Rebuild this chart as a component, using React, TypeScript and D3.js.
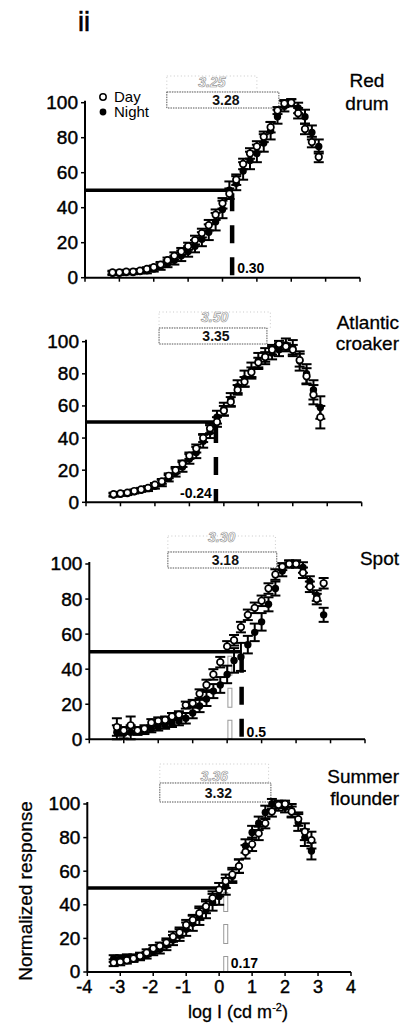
import React from 'react';
import * as d3 from 'd3';

// ---------- DATA ----------
const logI = [-3.2, -3.0, -2.8, -2.6, -2.4, -2.2, -2.0, -1.8, -1.6, -1.4, -1.2, -1.0, -0.8, -0.6, -0.4, -0.2, 0.0, 0.2, 0.4, 0.6, 0.8, 1.0, 1.2, 1.4, 1.6, 1.8, 2.0, 2.2, 2.4, 2.6, 2.8];
const xTicks = [-4, -3, -2, -1, 0, 1, 2, 3, 4];
const yTicks = [0, 20, 40, 60, 80, 100];
const speciesNames = [["Red", "drum"], ["Atlantic", "croaker"], ["Spot"], ["Summer", "flounder"]];

const dayRedDrum = [3, 3, 3.5, 3.5, 4, 5, 6, 7.5, 10, 12.5, 15, 18, 21.5, 25.5, 30, 36, 42.5, 48, 56, 65, 71, 75, 80.5, 86, 95.5, 99.5, 100, 94, 85, 77.5, 69];
const nightRedDrum = [2.5, 2.5, 3, 3, 3.5, 4, 5, 6.5, 8, 10, 12.5, 15, 18, 22, 26, 32, 39, 50, 54, 61, 67, 71, 77, 84, 92, 98, 100, 97, 92, 83, 75];
const dayErrRedDrum = [1, 1, 1, 1, 1, 1, 1, 1.5, 1.5, 2, 2, 2, 2.5, 2.5, 3, 3, 3, 3, 3, 3, 3, 3, 3, 3, 2, 2, 2, 3, 3, 3, 3];
const nightErrRedDrum = [1, 1, 1, 1, 1, 1.5, 1.5, 2, 2, 2.5, 3, 3, 3.5, 4, 4.5, 5, 5, 5, 4, 5, 5, 5, 5, 5, 4, 3, 2, 3, 4, 4, 4];

const dayCroaker = [5, 5.5, 6, 7, 8, 9, 11, 13, 16.5, 20, 24, 29, 33.5, 40, 46, 50, 57, 62.5, 70, 75, 81, 87, 90.5, 95, 98.5, 97, 95, 88.5, 78.5, 67, 53];
const nightCroaker = [4.5, 5, 5.5, 6.5, 7.5, 8.5, 10, 12, 15, 18.5, 22, 27, 31, 38, 44, 53, 58, 64, 72, 77, 82, 88, 91, 93, 95, 98, 96, 88, 80, 70, 59];
const dayErrCroaker = [1, 1, 1, 1, 1, 1, 1, 1.5, 1.5, 2, 2, 2, 2.5, 2.5, 3, 3, 3, 3, 3, 3, 3, 3, 3, 3, 2, 2, 3, 4, 5, 6, 7];
const nightErrCroaker = [1, 1, 1, 1, 1, 1.5, 1.5, 2, 2, 2.5, 3, 3, 3.5, 4, 4, 4, 4, 4, 4, 5, 5, 5, 5, 4, 4, 4, 5, 6, 6, 6, 7];

const daySpot = [7, 5, 8, 5, 6, 9.5, 10.5, 11, 13, 14, 19.5, 20.5, 26, 31, 37, 44, 53, 56.5, 64, 71, 75, 79, 86, 94, 98.5, 100, 100, 95, 87, 80, 89];
const nightSpot = [4, 3.5, 4, 4.5, 5, 6, 7, 8, 9, 10.5, 12, 15, 19, 23, 27.5, 31, 37, 45, 47, 54, 61, 67, 77, 86, 96, 100, 100, 98, 90, 82, 71];
const dayErrSpot = [5, 2, 5, 2, 2, 2, 2, 2, 2, 2, 2, 2, 2.5, 3, 3, 3, 3, 3, 3, 3, 3, 3, 3, 3, 2, 2, 2, 3, 3, 3, 3];
const nightErrSpot = [4, 3, 4, 2, 2, 2, 2, 2, 2, 2.5, 3, 3, 3.5, 4, 4, 4.5, 5, 7, 8, 5, 5, 5, 4, 4, 3, 2, 2, 3, 3, 3, 4];

const dayFlounder = [5.5, 6, 7, 8, 9.5, 11.5, 14, 15.5, 17.5, 21, 23.5, 28, 31, 35, 39, 44, 49, 54, 58, 63, 71.5, 76, 82.5, 88.5, 95.5, 99.5, 100, 95.5, 91, 83.5, 78.5];
const nightFlounder = [8, 8, 8.5, 8.5, 9, 10, 12, 13.5, 16, 19, 22, 25.5, 29, 33, 37, 41.5, 45, 51, 57, 63, 75, 83, 88.5, 95, 100, 99, 98, 96, 89, 80, 72];
const dayErrFlounder = [2, 2, 2, 2, 2, 2, 2, 2, 2.5, 3, 3, 3, 3, 4, 4, 4, 4, 4, 4, 4, 4, 4, 4, 3, 3, 2, 2, 3, 4, 5, 5];
const nightErrFlounder = [2, 2, 2, 2, 2, 2, 2, 2.5, 3, 3, 3.5, 4, 4.5, 5, 5, 5, 5, 5, 4, 4, 4, 4, 4, 4, 3, 3, 3, 4, 5, 5, 5];

// dynamic-range boxes (log units) and their labels
const rangeStart = [-1.62, -1.88, -1.72, -1.8];
const nightRangeEnd = [1.64, 1.25, 1.44, 1.57];
const nightRangeLabels = ["3.28", "3.35", "3.18", "3.32"];
const dayRangeLabels = ["3.25", "3.50", "3.30", "3.36"];
const dayRangeEnd = [1.0, 1.35, 1.4, 1.5];
// 50% thresholds (log I)
const thresholds = [0.28, -0.23, 0.42, 0.2];
const thresholdLabels = ["0.30", "-0.24", "0.5", "0.17"];
const dayThresholds = [null, null, 0.08, 0.2];
const hasNightDash = [true, true, true, false];

// ---------- LAYOUT ----------
const layout = [
  { left: 85, right: 360, y0: 277.7, y100: 102.7, boxTop: 92, boxH: 16, faintBase: 87, name: [{ x: 367, y: 87, a: 'middle' }, { x: 367, y: 110, a: 'middle' }], thrSide: 'right', thrBase: 273 },
  { left: 86, right: 361.7, y0: 502.3, y100: 341.7, boxTop: 328, boxH: 16, faintBase: 322, name: [{ x: 399, y: 329, a: 'end' }, { x: 399, y: 350, a: 'end' }], thrSide: 'left', thrBase: 498 },
  { left: 89.3, right: 365, y0: 739.3, y100: 564, boxTop: 552, boxH: 16, faintBase: 542, name: [{ x: 399, y: 565, a: 'end' }], thrSide: 'right', thrBase: 737 },
  { left: 87.3, right: 351, y0: 972, y100: 804, boxTop: 783, boxH: 19, faintBase: 781, name: [{ x: 399, y: 783, a: 'end' }, { x: 399, y: 805, a: 'end' }], thrSide: 'right', thrBase: 968 },
];

const series = [
  { day: dayRedDrum, night: nightRedDrum, dErr: dayErrRedDrum, nErr: nightErrRedDrum },
  { day: dayCroaker, night: nightCroaker, dErr: dayErrCroaker, nErr: nightErrCroaker },
  { day: daySpot, night: nightSpot, dErr: dayErrSpot, nErr: nightErrSpot },
  { day: dayFlounder, night: nightFlounder, dErr: dayErrFlounder, nErr: nightErrFlounder },
];

const FONT = 'Liberation Sans, Arial, Helvetica, sans-serif';

function Panel({ i }: { i: number }) {
  const L = layout[i];
  const S = series[i];
  const x = d3.scaleLinear().domain([-4, 4]).range([L.left, L.right]);
  const y = d3.scaleLinear().domain([0, 100]).range([L.y0, L.y100]);
  const thr = thresholds[i];
  const capW = 5;

  const errBars = (vals: number[], errs: number[], key: string) =>
    vals.map((v, k) => {
      const cx = x(logI[k]);
      const lo = y(v - errs[k]);
      const hi = y(v + errs[k]);
      return (
        <g key={key + k} stroke="#000" strokeWidth={2}>
          <line x1={cx} x2={cx} y1={lo} y2={hi} />
          <line x1={cx - capW} x2={cx + capW} y1={lo} y2={lo} />
          <line x1={cx - capW} x2={cx + capW} y1={hi} y2={hi} />
        </g>
      );
    });

  const dayThr = dayThresholds[i];

  return (
    <g fontFamily={FONT}>
      {/* dynamic range boxes */}
      <rect x={x(rangeStart[i])} y={L.boxTop - L.boxH} width={x(dayRangeEnd[i]) - x(rangeStart[i])} height={L.boxH}
        fill="none" stroke="#c8c8c8" strokeWidth={1} strokeDasharray="1,2.5" />
      <text x={(x(rangeStart[i]) + x(dayRangeEnd[i])) / 2} y={L.faintBase} textAnchor="middle" fontSize={14}
        fontWeight="bold" fill="#fff" stroke="#999" strokeWidth={0.7} fontStyle="italic">{dayRangeLabels[i]}</text>
      <rect x={x(rangeStart[i])} y={L.boxTop} width={x(nightRangeEnd[i]) - x(rangeStart[i])} height={L.boxH}
        fill="#fff" stroke="#555" strokeWidth={1} strokeDasharray="1.5,1" />
      <text x={(x(rangeStart[i]) + x(nightRangeEnd[i])) / 2 + 3} y={L.boxTop + L.boxH / 2} dy="0.36em" textAnchor="middle"
        fontSize={14} fontWeight="bold" fill="#111">{nightRangeLabels[i]}</text>

      {/* 50% horizontal line */}
      <line x1={x(-4)} x2={x(thr)} y1={y(50)} y2={y(50)} stroke="#000" strokeWidth={3.5} />

      {/* day threshold (hollow dashes) */}
      {dayThr !== null && (
        <g>
          <line x1={x(dayThr)} x2={x(dayThr)} y1={y(50) + 4} y2={y(0)} stroke="#999" strokeWidth={5} strokeDasharray="20,12" />
          <line x1={x(dayThr)} x2={x(dayThr)} y1={y(50) + 5} y2={y(0) - 1} stroke="#fff" strokeWidth={3} strokeDasharray="18,14" />
        </g>
      )}
      {/* night threshold dashed */}
      {hasNightDash[i] && (
        <line x1={x(thr)} x2={x(thr)} y1={y(50) + 3} y2={y(0)} stroke="#000" strokeWidth={4.5} strokeDasharray="18,14" />
      )}
      <text x={L.thrSide === 'right' ? x(thr) + 5 : x(thr) - 4} y={L.thrBase} textAnchor={L.thrSide === 'right' ? 'start' : 'end'}
        fontSize={14} fontWeight="bold" fill="#000">{thresholdLabels[i]}</text>

      {/* night: error bars + filled circles */}
      {errBars(S.night, S.nErr, 'ne')}
      {S.night.map((v, k) => (
        <circle key={'n' + k} cx={x(logI[k])} cy={y(v)} r={3.7} fill="#000" />
      ))}
      {/* day: error bars + open circles */}
      {errBars(S.day, S.dErr, 'de')}
      {S.day.map((v, k) => (
        <circle key={'d' + k} cx={x(logI[k])} cy={y(v)} r={3.3} fill="#fff" stroke="#000" strokeWidth={1.7} />
      ))}

      {/* axes */}
      <line x1={x(-4)} x2={x(-4)} y1={y(0)} y2={y(100) - 2} stroke="#000" strokeWidth={2} />
      {yTicks.map(t => (
        <g key={'yt' + t}>
          <line x1={x(-4) - 4} x2={x(-4)} y1={y(t)} y2={y(t)} stroke="#000" strokeWidth={1.5} />
          <text x={x(-4) - 7} y={y(t)} dy="0.34em" textAnchor="end" fontSize={19} fill="#000" stroke="#000" strokeWidth={0.45}>{t}</text>
        </g>
      ))}
      <line x1={x(-4)} x2={x(4)} y1={y(0)} y2={y(0)} stroke="#000" strokeWidth={2} />
      {xTicks.map(t => (
        <g key={'xt' + t}>
          <line x1={x(t)} x2={x(t)} y1={y(0)} y2={y(0) + 4} stroke="#000" strokeWidth={1.5} />
          {i === 3 && (
            <text x={x(t) - (t < 0 ? 3 : 0)} y={y(0) + 21} textAnchor="middle" fontSize={18} fill="#000" stroke="#000" strokeWidth={0.45}>{t}</text>
          )}
        </g>
      ))}

      {/* species name */}
      {speciesNames[i].map((s, k) => (
        <text key={'sp' + k} x={L.name[k].x} y={L.name[k].y} textAnchor={L.name[k].a as any} fontSize={19} fill="#000" stroke="#000" strokeWidth={0.3}>{s}</text>
      ))}
    </g>
  );
}

export default function App() {
  return (
    <svg width={403} height={1036} style={{ position: 'absolute', left: 0, top: 0, background: '#fff' }} fontFamily={FONT}>
      <rect width={403} height={1036} fill="#fff" />
      <text x={78} y={31} fontSize={27} fill="#000" stroke="#000" strokeWidth={0.6}>ii</text>
      {/* legend */}
      <circle cx={103} cy={97} r={3.2} fill="#fff" stroke="#000" strokeWidth={1.5} />
      <text x={114} y={97} dy="0.36em" fontSize={15} fill="#000">Day</text>
      <circle cx={103} cy={112} r={3.4} fill="#000" />
      <text x={114} y={112} dy="0.36em" fontSize={15} fill="#000">Night</text>

      {[0, 1, 2, 3].map(i => <Panel key={i} i={i} />)}

      <text transform="translate(32,891) rotate(-90)" textAnchor="middle" fontSize={19} fill="#000" stroke="#000" strokeWidth={0.3}>Normalized response</text>
      <text x={238} y={1018} textAnchor="middle" fontSize={18} fill="#000" stroke="#000" strokeWidth={0.3}>
        log I (cd m<tspan dy={-7} fontSize={11}>-2</tspan><tspan dy={7}>)</tspan>
      </text>
    </svg>
  );
}
